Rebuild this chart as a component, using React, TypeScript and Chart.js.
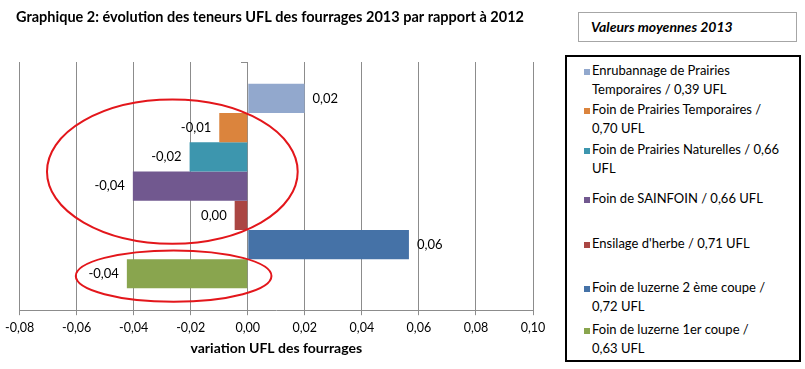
import React, { useEffect, useRef } from "react";
import { Chart, registerables } from "chart.js";

Chart.register(...registerables);

// ---- data ----
const categories = [""];
const seriesNames = [
  "Enrubannage de Prairies\nTemporaires / 0,39 UFL",
  "Foin de Prairies Temporaires /\n0,70 UFL",
  "Foin de Prairies Naturelles / 0,66\nUFL",
  "Foin de SAINFOIN / 0,66 UFL",
  "Ensilage d'herbe / 0,71 UFL",
  "Foin de luzerne 2 ème coupe /\n0,72 UFL",
  "Foin de luzerne 1er coupe /\n0,63 UFL",
];
const seriesValues = [0.0199, -0.01, -0.0204, -0.0403, -0.0046, 0.0565, -0.0424];
const seriesColors = ["#92A8CD", "#DB843D", "#3D96AE", "#71588F", "#AA4643", "#4572A7", "#89A54E"];
const xMin = -0.08;
const xMax = 0.1;
const xStep = 0.02;
const chartTitle = "Graphique 2: évolution des teneurs UFL des fourrages 2013 par rapport à 2012";
const xAxisTitle = "variation UFL des fourrages";
const legendTitle = "Valeurs moyennes 2013";
// highlighted groups (x in value units, y in bar slots counted from the top bar)
const highlightXMin = [-0.0704, -0.0603];
const highlightXMax = [0.0175, 0.0083];
const highlightSlotMin = [0.54, 5.7];
const highlightSlotMax = [5.47, 7.46];

const FONT = "Lato, 'Open Sans', 'Noto Sans', sans-serif";

function fmt(v: number): string {
  let s = v.toFixed(2);
  if (parseFloat(s) === 0) s = "0.00";
  return s.replace(".", ",");
}

const barLabelPlugin = {
  id: "barLabels",
  afterDatasetsDraw(chart: any) {
    const ctx = chart.ctx;
    ctx.save();
    ctx.font = `13px ${FONT}`;
    ctx.fillStyle = "#000";
    ctx.textBaseline = "middle";
    chart.data.datasets.forEach((ds: any, i: number) => {
      const meta = chart.getDatasetMeta(i);
      meta.data.forEach((el: any, j: number) => {
        const v = ds.data[j];
        const t = fmt(v);
        if (v >= 0) {
          ctx.textAlign = "left";
          ctx.fillText(t, el.x + 8, el.y);
        } else {
          ctx.textAlign = "right";
          ctx.fillText(t, el.x - 8, el.y);
        }
      });
    });
    ctx.restore();
  },
};

const ellipsePlugin = {
  id: "highlightEllipses",
  afterDatasetsDraw(chart: any) {
    const ctx = chart.ctx;
    const xs = chart.scales.x;
    const first = chart.getDatasetMeta(0).data[0] as any;
    if (!first) return;
    const h = first.height;
    const top0 = first.y - h / 2;
    ctx.save();
    ctx.strokeStyle = "#E3161B";
    ctx.lineWidth = 2;
    for (let k = 0; k < highlightXMin.length; k++) {
      const x1 = xs.getPixelForValue(highlightXMin[k]);
      const x2 = xs.getPixelForValue(highlightXMax[k]);
      const y1 = top0 + highlightSlotMin[k] * h;
      const y2 = top0 + highlightSlotMax[k] * h;
      ctx.beginPath();
      ctx.ellipse((x1 + x2) / 2, (y1 + y2) / 2, (x2 - x1) / 2, (y2 - y1) / 2, 0, 0, Math.PI * 2);
      ctx.stroke();
    }
    ctx.restore();
  },
};

// legend layout (style only)
const legendLineTops = [3.5, 42.5, 82.5, 131.5, 176.5, 220.5, 262.5];

export default function App() {
  const canvasRef = useRef<HTMLCanvasElement | null>(null);

  useEffect(() => {
    if (!canvasRef.current) return;
    Chart.defaults.font.family = FONT;
    const chart = new Chart(canvasRef.current, {
      type: "bar",
      data: {
        labels: categories,
        datasets: seriesNames.map((name, i) => ({
          label: name.replace("\n", " "),
          data: [seriesValues[i]],
          backgroundColor: seriesColors[i],
          borderWidth: 0,
          categoryPercentage: 0.824,
          barPercentage: 1,
        })),
      },
      options: {
        indexAxis: "y",
        responsive: false,
        animation: false,
        devicePixelRatio: 1,
        layout: { padding: { left: 7, right: 27, top: 0, bottom: 8 } },
        plugins: {
          legend: { display: false },
          tooltip: { enabled: false },
          title: {
            display: true,
            text: chartTitle,
            color: "#000",
            font: { family: FONT, size: 14.5, weight: "bold" },
            padding: { top: 9, bottom: 35.6 },
          },
        },
        scales: {
          x: {
            type: "linear",
            min: xMin,
            max: xMax,
            ticks: {
              stepSize: xStep,
              color: "#000",
              font: { family: FONT, size: 12.5 },
              padding: 5,
              maxRotation: 0,
              callback: (v: any) => fmt(Number(v)),
            },
            grid: { color: "#8C8C8C", lineWidth: 1, drawTicks: true, tickLength: 5 },
            border: { display: true, color: "#8C8C8C" },
            title: {
              display: true,
              text: xAxisTitle,
              color: "#000",
              font: { family: FONT, size: 14, weight: "bold" },
              padding: { top: 0, bottom: 4 },
            },
          },
          y: {
            type: "category",
            position: { x: 0 } as any,
            ticks: { display: false },
            grid: { drawOnChartArea: false, drawTicks: true, tickLength: 6, color: "#8C8C8C" },
            border: { display: true, color: "#8C8C8C" },
          },
        },
      } as any,
      plugins: [barLabelPlugin, ellipsePlugin],
    });
    const fonts: any = (document as any).fonts;
    if (fonts && fonts.load) {
      Promise.all([fonts.load(`12px Lato`), fonts.load(`bold 12px Lato`)]).then(() => chart.update());
    }
    return () => chart.destroy();
  }, []);

  return (
    <div style={{ position: "fixed", left: 0, top: 0, width: 805, height: 369, background: "#fff", fontFamily: FONT }}>
      <canvas ref={canvasRef} width={560} height={369} style={{ position: "absolute", left: 0, top: 0 }} />
      <div
        style={{
          position: "absolute",
          left: 578,
          top: 12,
          width: 219,
          height: 30,
          boxSizing: "border-box",
          border: "1px solid #A6A6A6",
          paddingLeft: 12,
          fontWeight: "bold",
          fontStyle: "italic",
          fontSize: 14,
          lineHeight: "28px",
          color: "#000",
        }}
      >
        {legendTitle}
      </div>
      <div
        style={{
          position: "absolute",
          left: 565,
          top: 55,
          width: 236,
          height: 307,
          boxSizing: "border-box",
          border: "2px solid #000",
        }}
      >
        {seriesNames.map((name, i) => (
          <div key={i} style={{ position: "absolute", left: 0, top: legendLineTops[i], width: 230 }}>
            <div
              style={{
                position: "absolute",
                left: 17,
                top: 8,
                width: 6,
                height: 6,
                background: seriesColors[i],
              }}
            />
            <div
              style={{
                position: "absolute",
                left: 25,
                top: 0,
                width: 205,
                fontSize: 13,
                lineHeight: "19px",
                whiteSpace: "pre-line",
                color: "#000",
              }}
            >
              {name}
            </div>
          </div>
        ))}
      </div>
    </div>
  );
}
